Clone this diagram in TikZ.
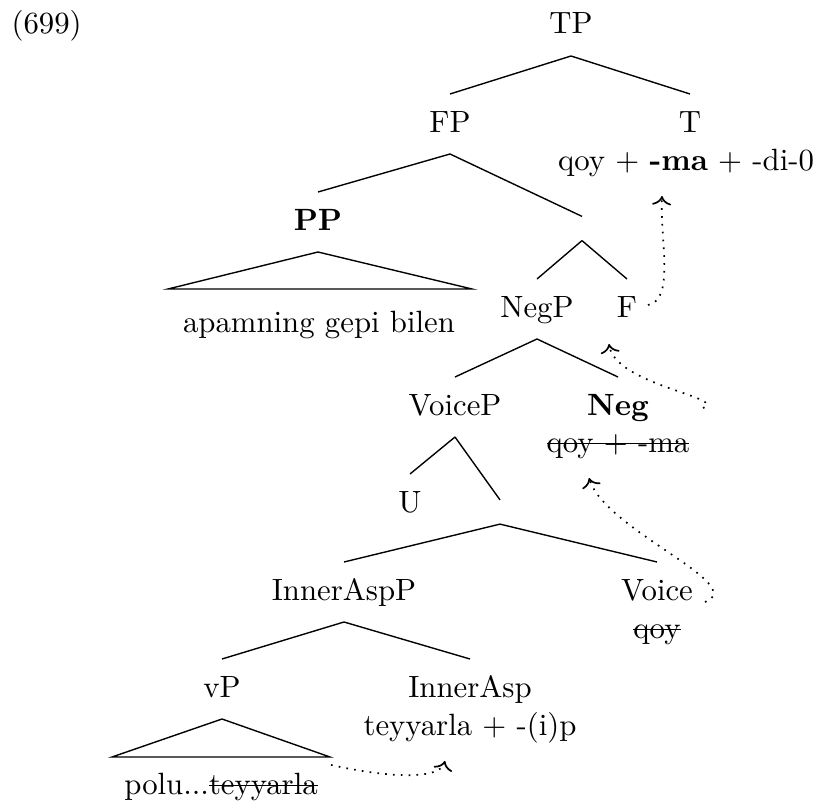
\documentclass[tikz,border=0pt]{standalone}
\usetikzlibrary{calc,arrows.meta}
\newsavebox\strkbox
\newcommand\strk[1]{\sbox\strkbox{#1}\rlap{\usebox\strkbox}\rule[0.6ex]{\wd\strkbox}{0.4pt}}
\tikzset{
  lab/.style={anchor=base,inner sep=0pt},
  branch/.style={line width=0.45pt},
  emptynode/.style={inner sep=0pt,minimum width=0pt,minimum height=7.475pt},
  mv/.style={dotted,line width=0.55pt,-{To[scale=1.05]}},
}
\begin{document}
\begin{tikzpicture}[x=0.325pt,y=-0.325pt]
\useasboundingbox (0,0) rectangle (819,801);
% labels
\node[anchor=base west,inner sep=0pt] (ex) at (11,33) {(699)};
\node[lab] (TP) at (571,33) {TP};
\node[lab] (FP) at (450,132) {FP};
\node[lab] (T) at (690,132) {T};
\node[lab] (Tm) at (686,170) {qoy $+$ \textbf{-ma} $+$ -di-0};
\node[lab] (PP) at (318,230) {\textbf{PP}};
\node[lab] (PPt) at (319,332) {apamning gepi bilen};
\node[emptynode] (E1) at (582,228.5) {};
\node[lab] (NegP) at (537,317) {NegP};
\node[lab] (F) at (627,317) {F};
\node[lab] (VoiceP) at (455,415) {VoiceP};
\node[lab] (Neg) at (618,415) {\textbf{Neg}};
\node[lab] (Negm) at (618,452) {\strk{qoy $+$ -ma}};
\node[lab] (U) at (410,512) {U};
\node[emptynode] (E2) at (500,512) {};
\node[lab] (IAP) at (344,600) {InnerAspP};
\node[lab] (Voice) at (657,600) {Voice};
\node[lab] (Voicem) at (657,638) {\strk{qoy}};
\node[lab] (vP) at (222,697) {vP};
\node[lab] (IA) at (470,697) {InnerAsp};
\node[lab] (IAm) at (470,735) {teyyarla $+$ -(i)p};
\node[lab] (vPt) at (221,794) {polu...\strk{teyyarla}};
% triangle corners
\coordinate (PPl) at (168,289);
\coordinate (PPr) at (472,289);
\coordinate (vPl) at (112,757);
\coordinate (vPr) at (330,757);
% branches
\draw[branch] ($(TP.base)+(0,23)$) -- ($(FP.base)+(0,-38)$);
\draw[branch] ($(TP.base)+(0,23)$) -- ($(T.base)+(0,-38)$);
\draw[branch] ($(FP.base)+(0,22)$) -- ($(PP.base)+(0,-38)$);
\draw[branch] ($(FP.base)+(0,22)$) -- (E1.north);
\draw[branch] ($(PP.base)+(0,22)$) -- (PPl) -- (PPr) -- cycle;
\draw[branch] (E1.south) -- ($(NegP.base)+(0,-38)$);
\draw[branch] (E1.south) -- ($(F.base)+(0,-38)$);
\draw[branch] ($(NegP.base)+(0,22)$) -- ($(VoiceP.base)+(0,-38)$);
\draw[branch] ($(NegP.base)+(0,22)$) -- ($(Neg.base)+(0,-38)$);
\draw[branch] ($(VoiceP.base)+(0,22)$) -- ($(U.base)+(0,-38)$);
\draw[branch] ($(VoiceP.base)+(0,22)$) -- (E2.north);
\draw[branch] (E2.south) -- ($(IAP.base)+(0,-38)$);
\draw[branch] (E2.south) -- ($(Voice.base)+(0,-38)$);
\draw[branch] ($(IAP.base)+(0,22)$) -- ($(vP.base)+(0,-38)$);
\draw[branch] ($(IAP.base)+(0,22)$) -- ($(IA.base)+(0,-38)$);
\draw[branch] ($(vP.base)+(0,22)$) -- (vPl) -- (vPr) -- cycle;
% movement arrows
\coordinate (a1s) at (331,765);
\coordinate (a1e) at (445,761);
\coordinate (a2s) at (705,602);
\coordinate (a2e) at (589,478);
\coordinate (a3s) at (703,408);
\coordinate (a3e) at (609,344);
\coordinate (a4s) at (648,305);
\coordinate (a4e) at (662,196);
\draw[mv] (a1s) .. controls (390,778) and (440,780) .. (a1e);
\draw[mv] (a2s) .. controls (750,585) and (605,530) .. (a2e);
\draw[mv] (a3s) .. controls (730,398) and (615,385) .. (a3e);
\draw[mv] (a4s) .. controls (675,300) and (660,240) .. (a4e);
\end{tikzpicture}
\end{document}
